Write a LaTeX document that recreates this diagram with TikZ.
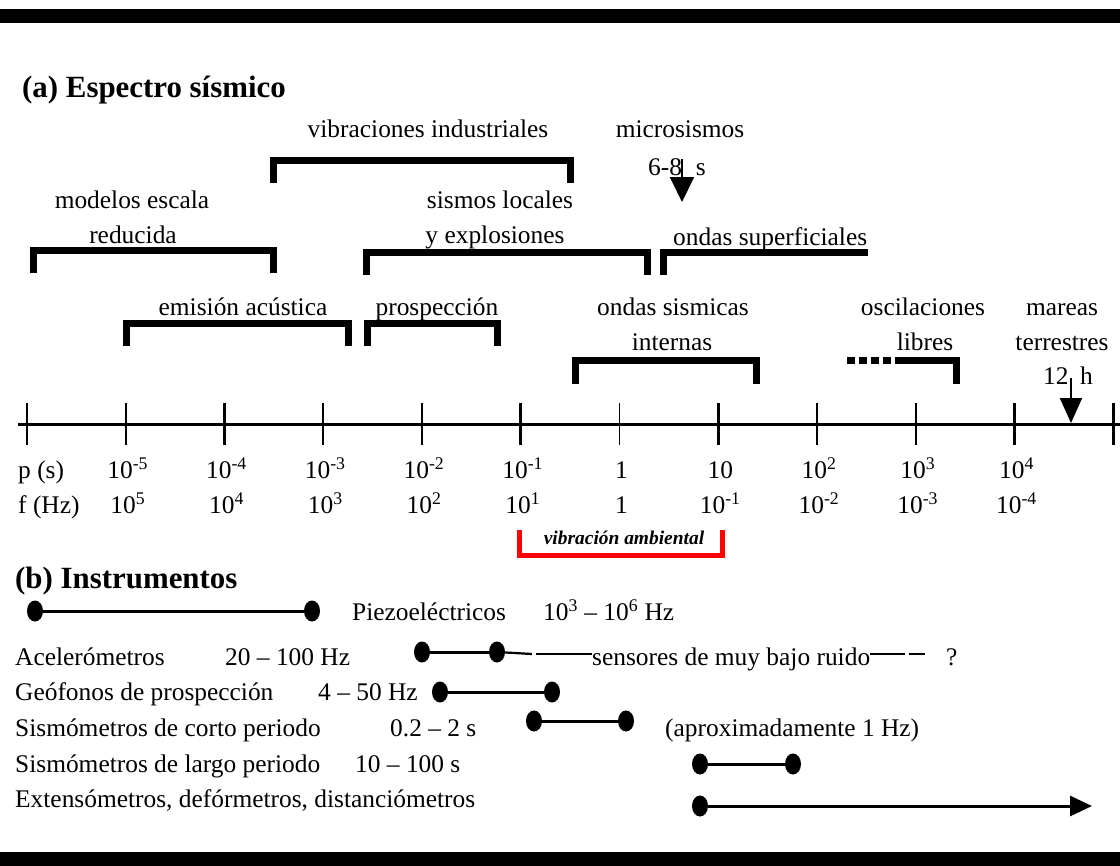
\documentclass[tikz,border=0pt]{standalone}
\usepackage{fontspec}
\setmainfont{Liberation Serif}
\usetikzlibrary{arrows.meta,shapes.geometric}
\begin{document}
\begin{tikzpicture}[x=1bp,y=-1bp,
  lbl/.style={inner sep=0pt, font=\fontsize{25.5}{30}\selectfont},
  ttl/.style={inner sep=0pt, font=\fontsize{31}{36}\selectfont\bfseries},
  amb/.style={inner sep=0pt, font=\fontsize{19.5}{22}\selectfont\bfseries\itshape},
  brk/.style={line width=7bp, line join=miter},
  bar/.style={line width=14bp},
  thintick/.style={line width=1.6bp},
  thicktick/.style={line width=3.2bp},
  dot/.style={ellipse, fill=black, minimum width=16bp, minimum height=21bp, inner sep=0pt},
  rng/.style={line width=3bp},
  pin/.style={line width=2bp, -{Triangle[width=24bp,length=25bp]}}
]
\useasboundingbox (0,0) rectangle (1120,866);
\fill[white] (0,0) rectangle (1120,866);
% frame bars
\draw[bar] (0,16) -- (1120,16);
\draw[bar] (0,859) -- (1120,859);

% ---------- (a) ----------
\node[ttl, anchor=base west] (ta) at (22,97) {(a) Espectro sísmico};

% vibraciones industriales
\node[lbl, anchor=base] (vib) at (428,137) {vibraciones industriales};
\draw[brk] (273.5,183) -- (273.5,160) -- (570,160) -- (570,183);

% microsismos
\node[lbl, anchor=base] (mic) at (680,137) {microsismos};
\node[lbl, anchor=base] (mic2) at (677,175) {6-8\hspace{0.55em}s};
\coordinate (micA) at (682,159);
\coordinate (micB) at (682,202);
\draw[pin] (micA) -- (micB);

% modelos escala reducida
\node[lbl, anchor=base] (mod1) at (132,208) {modelos escala};
\node[lbl, anchor=base] (mod2) at (133,243) {reducida};
\draw[brk] (33.5,273) -- (33.5,250) -- (273.5,250) -- (273.5,273);

% sismos locales y explosiones
\node[lbl, anchor=base] (sis1) at (500,208) {sismos locales};
\node[lbl, anchor=base] (sis2) at (495,243) {y explosiones};
\draw[brk] (366,275) -- (366,252) -- (647,252) -- (647,275);

% ondas superficiales
\node[lbl, anchor=base west] (sup) at (673,245) {ondas superficiales};
\draw[brk] (663,275) -- (663,252) -- (868,252);

% emision acustica
\node[lbl, anchor=base] (emi) at (243,315) {emisión acústica};
\draw[brk] (126.5,346) -- (126.5,323.5) -- (348.5,323.5) -- (348.5,346);

% prospeccion
\node[lbl, anchor=base] (pro) at (437,315) {prospección};
\draw[brk] (367,346) -- (367,323.5) -- (497,323.5) -- (497,346);

% ondas sismicas internas
\node[lbl, anchor=base] (int1) at (673,315) {ondas sismicas};
\node[lbl, anchor=base] (int2) at (672,350) {internas};
\draw[brk] (575,384) -- (575,360) -- (756,360) -- (756,384);

% oscilaciones libres
\node[lbl, anchor=base] (osc1) at (923,315) {oscilaciones};
\node[lbl, anchor=base] (osc2) at (925,350) {libres};
\draw[brk, dash pattern=on 8bp off 4bp] (847,360) -- (903,360);
\draw[brk] (903,360) -- (956.5,360) -- (956.5,384);

% mareas terrestres
\node[lbl, anchor=base] (mar1) at (1062,315) {mareas};
\node[lbl, anchor=base] (mar2) at (1062,350) {terrestres};
\node[lbl, anchor=base] (mar3) at (1068,384) {12\hspace{0.45em}h};
\coordinate (marA) at (1071,378);
\coordinate (marB) at (1071,423);
\draw[pin, -{Triangle[width=22bp,length=25bp]}] (marA) -- (marB);

% axis
\coordinate (axL) at (18,424);
\coordinate (axR) at (1120,424);
\draw[line width=3bp] (axL) -- (axR);
\foreach \i/\s in {0/thintick,1/thintick,2/thicktick,3/thintick,4/thintick,5/thicktick,6/thintick,7/thicktick,8/thintick,9/thintick,10/thicktick,11/thicktick}{
  \draw[\s] ({27+98.75*\i},403) -- ({27+98.75*\i},445);
}
\node[lbl, anchor=base west] (ps) at (18,478) {p (s)};
\node[lbl, anchor=base west] (fh) at (18,513) {f (Hz)};
\foreach \i/\p/\f in {
  1/10\textsuperscript{-5}/10\textsuperscript{5},
  2/10\textsuperscript{-4}/10\textsuperscript{4},
  3/10\textsuperscript{-3}/10\textsuperscript{3},
  4/10\textsuperscript{-2}/10\textsuperscript{2},
  5/10\textsuperscript{-1}/10\textsuperscript{1},
  6/1/1,
  7/10/10\textsuperscript{-1},
  8/10\textsuperscript{2}/10\textsuperscript{-2},
  9/10\textsuperscript{3}/10\textsuperscript{-3},
  10/10\textsuperscript{4}/10\textsuperscript{-4}}{
  \node[lbl, anchor=base] (p\i) at ({27+98.75*\i+2},478) {\p};
  \node[lbl, anchor=base] (f\i) at ({27+98.75*\i+2},513) {\f};
}

% vibracion ambiental
\node[amb, anchor=base] (amb) at (624,544) {vibración ambiental};
\draw[red, line width=5bp, line join=miter] (519,530) -- (519,555) -- (722,555) -- (722,530);

% ---------- (b) ----------
\node[ttl, anchor=base west] (tb) at (15,588) {(b) Instrumentos};

% Piezoelectricos
\node[dot] (pz1) at (35,611) {};
\node[dot] (pz2) at (312,611) {};
\draw[rng] (pz1) -- (pz2);
\node[lbl, anchor=base west] (pzt) at (352,620) {Piezoeléctricos};
\node[lbl, anchor=base west] (pzr) at (543,620) {10\textsuperscript{3} – 10\textsuperscript{6} Hz};

% Acelerometros
\node[lbl, anchor=base west] (ac) at (15,665) {Acelerómetros};
\node[lbl, anchor=base west] (acr) at (225,665) {20 – 100 Hz};
\node[dot] (ac1) at (422,652) {};
\node[dot] (ac2) at (497,652) {};
\draw[rng] (ac1) -- (ac2);
\node[lbl, anchor=base west] (sen) at (592,665) {sensores de muy bajo ruido};
\coordinate (sA) at (532,654);
\coordinate (sB) at (536,654);
\draw[line width=2.2bp] (ac2) -- (sA);
\draw[line width=2.2bp] (sB) -- (sen.west |- sB);
\coordinate (sC) at (905,654);
\coordinate (sD) at (909,654);
\coordinate (sE) at (925,654);
\draw[line width=2.2bp] (sen.east |- sC) -- (sC);
\draw[line width=2.2bp] (sD) -- (sE);
\node[lbl, anchor=base west] (q) at (946,665) {?};

% Geofonos
\node[lbl, anchor=base west] (ge) at (15,700) {Geófonos de prospección};
\node[lbl, anchor=base west] (ger) at (318,700) {4 – 50 Hz};
\node[dot] (ge1) at (440,692) {};
\node[dot] (ge2) at (552,692) {};
\draw[rng] (ge1) -- (ge2);

% corto periodo
\node[lbl, anchor=base west] (co) at (15,736) {Sismómetros de corto periodo};
\node[lbl, anchor=base west] (cor) at (390,736) {0.2 – 2 s};
\node[dot] (co1) at (534,721) {};
\node[dot] (co2) at (626,721) {};
\draw[rng] (co1) -- (co2);
\node[lbl, anchor=base west] (apr) at (665,736) {(aproximadamente 1 Hz)};

% largo periodo
\node[lbl, anchor=base west] (la) at (15,772) {Sismómetros de largo periodo};
\node[lbl, anchor=base west] (lar) at (355,772) {10 – 100 s};
\node[dot] (la1) at (700,764) {};
\node[dot] (la2) at (793,764) {};
\draw[rng] (la1) -- (la2);

% extensometros
\node[lbl, anchor=base west] (ex) at (15,807) {Extensómetros, defórmetros, distanciómetros};
\node[dot] (ex1) at (700,806) {};
\coordinate (exE) at (1092,806);
\draw[rng, -{Triangle[width=20bp,length=22bp]}] (ex1) -- (exE);
\end{tikzpicture}
\end{document}
